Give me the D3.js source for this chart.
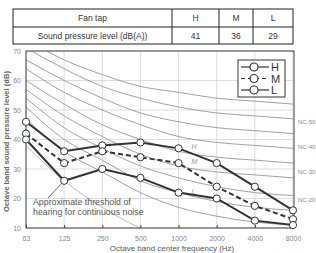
<!DOCTYPE html>
<html>
<head>
<meta charset="utf-8">
<script src="https://cdn.jsdelivr.net/npm/d3@7"></script>
<style>
  body { margin: 0; background: #fff; }
  svg { display: block; font-family: "Liberation Sans", Arial, sans-serif; }
</style>
</head>
<body>
<div id="container"></div>
<script>
// fan tap table
const tableHead = ["Fan tap", "H", "M", "L"]
const tableRow = ["Sound pressure level (dB(A))", "41", "36", "29"]

// octave band chart
const freqs = ["63", "125", "250", "500", "1000", "2000", "4000", "8000"]
const yTicks = [10, 20, 30, 40, 50, 60, 70]
const fanH = [46, 36, 38, 39, 37, 32, 24, 16]
const fanM = [42, 32, 36, 34, 32, 24, 17.5, 13]
const fanL = [40, 26, 30, 27, 22, 20, 12.5, 11]
const ncNames = ["NC-15", "NC-20", "NC-25", "NC-30", "NC-35", "NC-40", "NC-45", "NC-50", "NC-55"]
const ncValues = [
    [47, 36, 29, 22, 17, 14, 12, 11],
    [51, 40, 33, 26, 22, 19, 17, 16],
    [54, 44, 37, 31, 27, 24, 22, 21],
    [57, 48, 41, 35, 31, 29, 28, 27],
    [60, 52, 45, 40, 36, 34, 33, 32],
    [64, 56, 50, 45, 41, 39, 38, 37],
    [67, 60, 54, 49, 46, 44, 43, 42],
    [71, 64, 58, 54, 51, 49, 48, 47],
    [74, 67, 62, 58, 56, 54, 53, 52],
]
const ncLabeled = ["NC-50", "NC-40", "NC-30", "NC-20"]
const ncLabelDb = [46, 37.5, 29, 19.5]
const threshold = [38, 26, 17, 10, 6, 4, 4, 4]

const width = 316, height = 253
const plot = { left: 26, right: 294, top: 51, bottom: 228 }

const svg = d3.select("#container").append("svg")
    .attr("width", width).attr("height", height)

// ---- table
const colX = [13, 172, 219, 253, 293]
const rowY = [9, 27, 44]
const tbl = svg.append("g").attr("id", "table")
tbl.append("rect")
    .attr("x", colX[0]).attr("y", rowY[0])
    .attr("width", colX[4] - colX[0]).attr("height", rowY[2] - rowY[0])
    .attr("fill", "none").attr("stroke", "#222").attr("stroke-width", 1)
tbl.append("line")
    .attr("x1", colX[0]).attr("x2", colX[4]).attr("y1", rowY[1]).attr("y2", rowY[1])
    .attr("stroke", "#222")
colX.slice(1, 4).forEach(x => {
    tbl.append("line").attr("x1", x).attr("x2", x).attr("y1", rowY[0]).attr("y2", rowY[2]).attr("stroke", "#222")
})
;[tableHead, tableRow].forEach((row, r) => {
    tbl.selectAll(null).data(row).enter().append("text")
        .attr("x", (d, i) => (colX[i] + colX[i + 1]) / 2)
        .attr("y", (rowY[r] + rowY[r + 1]) / 2 + 3)
        .attr("text-anchor", "middle")
        .attr("font-size", 8.5)
        .attr("fill", "#333")
        .text(d => d)
})

// ---- scales
const x = d3.scalePoint().domain(freqs).range([plot.left, plot.right - 1])
const y = d3.scaleLinear().domain([10, 70]).range([plot.bottom, plot.top])

svg.append("clipPath").attr("id", "clip")
    .append("rect")
    .attr("x", plot.left).attr("y", plot.top)
    .attr("width", plot.right - plot.left).attr("height", plot.bottom - plot.top)

// grid
const grid = svg.append("g").attr("stroke", "#d4d4d4").attr("stroke-width", 0.8)
grid.selectAll("line.h").data(yTicks).enter().append("line")
    .attr("x1", plot.left).attr("x2", plot.right)
    .attr("y1", d => y(d)).attr("y2", d => y(d))
grid.selectAll("line.v").data(freqs).enter().append("line")
    .attr("x1", d => x(d)).attr("x2", d => x(d))
    .attr("y1", plot.top).attr("y2", plot.bottom)

// NC curves
const curve = d3.line()
    .x((d, i) => x(freqs[i]))
    .y(d => y(d))
    .curve(d3.curveMonotoneX)
const nc = svg.append("g").attr("clip-path", "url(#clip)")
nc.selectAll("path").data(ncValues).enter().append("path")
    .attr("d", curve)
    .attr("fill", "none")
    .attr("stroke", "#8a8a8a")
    .attr("stroke-width", 0.8)
nc.append("path")
    .datum(threshold)
    .attr("d", curve)
    .attr("fill", "none")
    .attr("stroke", "#aaa")
    .attr("stroke-width", 0.8)

// NC labels at right
svg.append("g").selectAll("text").data(ncLabeled).enter().append("text")
    .attr("x", plot.right + 4)
    .attr("y", (d, i) => y(ncLabelDb[i]) + 2)
    .attr("font-size", 6)
    .attr("fill", "#888")
    .text(d => d)

// frame
svg.append("rect")
    .attr("x", plot.left).attr("y", plot.top)
    .attr("width", plot.right - plot.left).attr("height", plot.bottom - plot.top)
    .attr("fill", "none").attr("stroke", "#444").attr("stroke-width", 1)

// axes
const yAxis = d3.axisLeft(y).tickValues(yTicks).tickSize(0).tickPadding(5)
svg.append("g").attr("transform", `translate(${plot.left},0)`)
    .call(yAxis)
    .call(g => g.select(".domain").remove())
    .selectAll("text").attr("font-size", 7).attr("fill", "#888").attr("font-family", "Liberation Sans, Arial, sans-serif")

const xAxis = d3.axisBottom(x).tickSize(-3).tickPadding(8)
svg.append("g").attr("transform", `translate(0,${plot.bottom})`)
    .call(xAxis)
    .call(g => g.select(".domain").remove())
    .call(g => g.selectAll("line").attr("stroke", "#444"))
    .selectAll("text").attr("font-size", 7).attr("fill", "#888").attr("font-family", "Liberation Sans, Arial, sans-serif")

svg.append("text")
    .attr("x", 172).attr("y", 251)
    .attr("text-anchor", "middle")
    .attr("font-size", 8).attr("fill", "#555")
    .text("Octave band center frequency (Hz)")
svg.append("text")
    .attr("transform", `translate(9,${(plot.top + plot.bottom) / 2 + 2}) rotate(-90)`)
    .attr("text-anchor", "middle")
    .attr("font-size", 7.6).attr("font-weight", "bold").attr("fill", "#666")
    .text("Octave band sound pressure level (dB)")

// threshold annotation
svg.append("line")
    .attr("x1", 48).attr("y1", 198)
    .attr("x2", x("125")).attr("y2", y(26))
    .attr("stroke", "#444").attr("stroke-width", 0.8)
const note = svg.append("text")
    .attr("x", 33).attr("y", 205)
    .attr("font-size", 8.8).attr("fill", "#555")
note.append("tspan").text("Approximate threshold of")
note.append("tspan").attr("x", 33).attr("dy", 10).text("hearing for continuous noise")

// fan series
const series = [
    { name: "H", values: fanH, dash: null },
    { name: "M", values: fanM, dash: "5,3" },
    { name: "L", values: fanL, dash: null },
]
const line = d3.line().x((d, i) => x(freqs[i])).y(d => y(d))
series.forEach(s => {
    const g = svg.append("g")
    g.append("path")
        .datum(s.values)
        .attr("d", line)
        .attr("fill", "none")
        .attr("stroke", "#333")
        .attr("stroke-width", 2)
        .attr("stroke-dasharray", s.dash)
    g.selectAll("circle").data(s.values).enter().append("circle")
        .attr("cx", (d, i) => x(freqs[i]))
        .attr("cy", d => y(d))
        .attr("r", 3.6)
        .attr("fill", "#fff")
        .attr("stroke", "#333")
        .attr("stroke-width", 1)
    // italic series tag near 1000 Hz
    g.append("text")
        .attr("x", x("1000") + 13)
        .attr("y", y(s.values[4]) + 1)
        .attr("font-size", 7).attr("font-style", "italic").attr("fill", "#999")
        .text(s.name)
})

// legend
const legend = svg.append("g").attr("transform", "translate(238,60)")
legend.append("rect").attr("width", 47).attr("height", 37)
    .attr("fill", "#fff").attr("stroke", "#333").attr("stroke-width", 1)
series.forEach((s, i) => {
    const ly = 7 + i * 11.5
    legend.append("line")
        .attr("x1", 3).attr("x2", 31).attr("y1", ly).attr("y2", ly)
        .attr("stroke", "#333").attr("stroke-width", 1.2)
        .attr("stroke-dasharray", s.dash ? "4,3" : null)
    legend.append("circle").attr("cx", 16).attr("cy", ly).attr("r", 4)
        .attr("fill", "#fff").attr("stroke", "#333").attr("stroke-width", 1.2)
    legend.append("text").attr("x", 33).attr("y", ly + 4)
        .attr("font-size", 11).attr("fill", "#333")
        .text(s.name)
})
</script>
</body>
</html>
